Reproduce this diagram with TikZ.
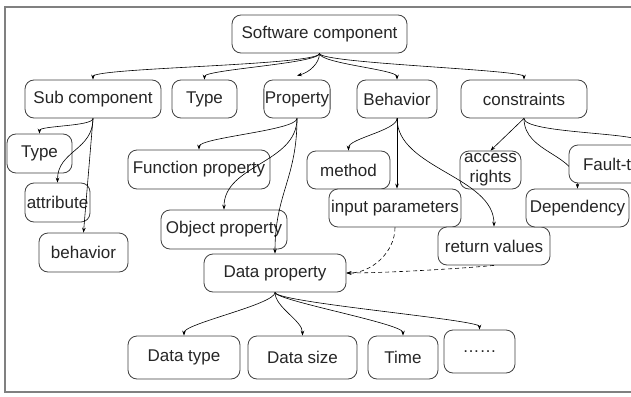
\documentclass[tikz,border=0pt]{standalone}
\usepackage{fontspec}
\setmainfont{Liberation Sans}
\usetikzlibrary{arrows.meta}
\tikzset{>={Stealth[length=5pt,width=3.6pt]}}

\begin{document}
\begin{tikzpicture}[
    x=1pt, y=1pt,
    font=\fontsize{17}{19}\selectfont,
    box/.style={draw=black!75, rounded corners=9pt, line width=0.8pt,
                align=center, minimum height=38pt,
                inner xsep=1pt, inner ysep=0pt,
                fill=white, text=black!85},
    edge/.style={->, line width=0.6pt},
    link/.style={->, line width=0.6pt, dash pattern=on 4pt off 3pt},
  ]
  \useasboundingbox (0,0) rectangle (631,-396);
  \clip (0,0) rectangle (631,-396);
  \draw[black!50, line width=1.5pt] (5,-7) rectangle (660,-392);

  % top two levels
  \node[box, minimum width=175] (sc) at (319.5,-34) {Software component};
  \node[box, minimum width=136] (subc) at (93,-99) {Sub component};
  \node[box, minimum width=65] (type) at (204.5,-99) {Type};
  \node[box, minimum width=66] (prop) at (297,-99) {Property};
  \node[box, minimum width=80] (beh) at (397,-99) {Behavior};
  \node[box, minimum width=126] (cons) at (524,-99) {constraints};

  % children
  \node[box, minimum width=65, minimum height=39] (subtype) at (39.5,-153.5) {Type};
  \node[box, minimum width=65, minimum height=39] (attr) at (57.5,-202.5) {attribute};
  \node[box, minimum width=89, minimum height=39] (subbeh) at (83.5,-252.5) {behavior};
  \node[box, minimum width=142, minimum height=39] (funcp) at (199,-169.5) {Function property};
  \node[box, minimum width=126, minimum height=39] (objp) at (224,-229.5) {Object property};
  \node[box, minimum width=142] (datap) at (275,-273) {Data property};
  \node[box, minimum width=83] (meth) at (348.5,-170) {method};
  \node[box, minimum width=132] (inpar) at (395,-208) {input parameters};
  \node[box, minimum width=112] (retval) at (494,-246) {return values};
  \node[box, minimum width=61, font=\fontsize{17}{20}\selectfont] (access) at (490.5,-170)
    {\raisebox{-3pt}{access}\\\raisebox{-3pt}{rights}};
  \node[box, minimum width=103] (dep) at (577.5,-208) {Dependency};

  % data property row
  \node[box, minimum width=112, minimum height=43] (dtype) at (184,-357.5) {Data type};
  \node[box, minimum width=109, minimum height=43] (dsize) at (302.5,-357.5) {Data size};
  \node[box, minimum width=70, minimum height=43] (time) at (403,-357.5) {Time};
  \node[box, minimum width=71, minimum height=43] (more) at (479.5,-351.5) {……};

  \draw[edge] (sc.south) .. controls +(0,-12) and +(0,12) .. (subc.north);
  \draw[edge] (sc.south) .. controls +(0,-10) and +(0,10) .. (type.north);
  \draw[edge] (sc.south) .. controls +(0,-10) and +(12,3) .. ([yshift=4]prop.north);
  \draw[edge] (sc.south) .. controls +(0,-10) and +(0,10) .. (beh.north);
  \draw[edge] (sc.south) .. controls +(0,-10) and +(0,10) .. (cons.north);

  \draw[edge] (subc.south) .. controls +(0,-8) and +(0,8) .. (subtype.north);
  \draw[edge] (subc.south) .. controls +(0,-32) and +(0,32) .. (attr.north);
  \draw[edge] (subc.south) -- (subbeh.north);

  \draw[edge] (prop.south) .. controls +(0,-12) and +(0,12) .. (funcp.north);
  \draw[edge] (prop.south) .. controls +(0,-45) and +(0,45) .. (objp.north);
  \draw[edge] (prop.south) .. controls +(0,-60) and +(0,60) .. (datap.north);

  \draw[edge] (beh.south) .. controls +(0,-12) and +(0,12) .. (meth.north);
  \draw[edge] (beh.south) -- (beh.south |- inpar.north);
  \draw[edge] (beh.south) .. controls +(0,-50) and +(0,50) .. (retval.north);

  \draw[edge] (cons.south) -- (access.north);
  \draw[edge] (cons.south) .. controls +(0,-35) and +(0,35) .. (dep.north);
  \node[box, text width=114pt, align=left, inner xsep=14pt, minimum height=38pt]
    (fault) at (640,-164) {Fault-t};
  \draw[edge] (cons.south) .. controls +(0,-15) and +(0,12) .. (fault.north);

  \draw[edge] (datap.south) .. controls +(0,-12) and +(0,12) .. (dtype.north);
  \draw[edge] (datap.south) .. controls +(0,-15) and +(0,15) .. (dsize.north);
  \draw[edge] (datap.south) .. controls +(0,-8) and +(0,12) .. (time.north);
  \draw[edge] (datap.south) .. controls +(0,-10) and +(0,10) .. (more.north);

  \draw[link] (inpar.south) .. controls +(0,-25) and +(25,0) .. (datap.east);
  \draw[link] (retval.south) .. controls +(-30,-3) and +(40,0) .. (datap.east);
\end{tikzpicture}
\end{document}
